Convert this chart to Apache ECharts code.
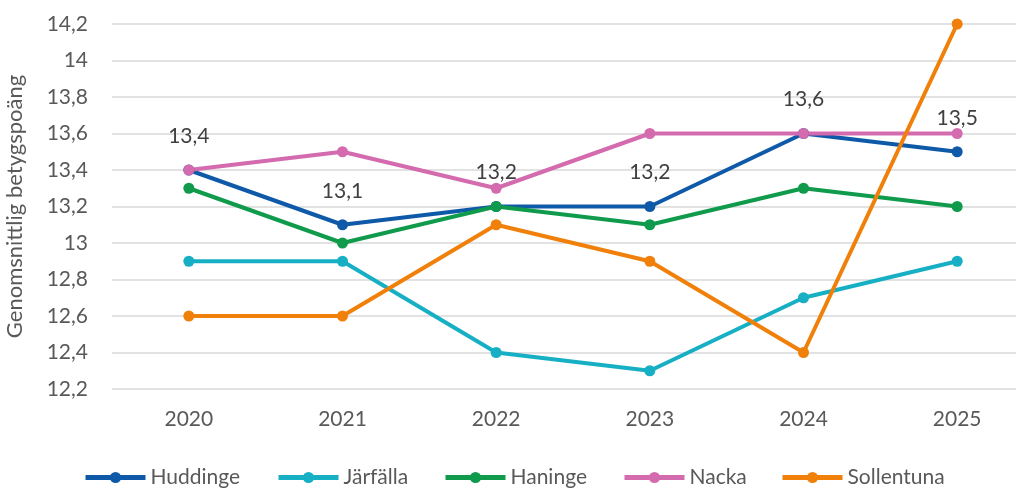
<!DOCTYPE html>
<html>
<head>
<meta charset="utf-8">
<script src="https://cdn.jsdelivr.net/npm/echarts@6/dist/echarts.min.js"></script>
<style>
  html, body { margin: 0; padding: 0; background: #fff; }
  #main { width: 1016px; height: 489px; }
</style>
</head>
<body>
<div id="main"></div>
<script>
const years = ['2020', '2021', '2022', '2023', '2024', '2025'];
const huddinge = [13.4, 13.1, 13.2, 13.2, 13.6, 13.5];
const jarfalla = [12.9, 12.9, 12.4, 12.3, 12.7, 12.9];
const haninge = [13.3, 13.0, 13.2, 13.1, 13.3, 13.2];
const nacka = [13.4, 13.5, 13.3, 13.6, 13.6, 13.6];
const sollentuna = [12.6, 12.6, 13.1, 12.9, 12.4, 14.2];

const names = ['Huddinge', 'Järfälla', 'Haninge', 'Nacka', 'Sollentuna'];
const legendLeft = [83, 276, 443, 622, 780];

const fontFam = 'Lato, "Open Sans", sans-serif';
const fmt = v => String(Math.round(v * 10) / 10).replace('.', ',');

function line(name, data, color, labels) {
  return {
    name: name,
    type: 'line',
    data: data,
    symbol: 'circle',
    symbolSize: 11,
    lineStyle: { width: 4, color: color },
    itemStyle: { color: color },
    label: labels ? {
      show: true,
      position: 'top',
      distance: 18,
      color: '#404040',
      fontSize: 21,
      fontFamily: fontFam,
      formatter: p => fmt(p.value)
    } : { show: false },
    emphasis: { disabled: true },
    animation: false
  };
}

const chart = echarts.init(document.getElementById('main'), null, { renderer: 'canvas' });

chart.setOption({
  grid: { left: 112, width: 922, top: 24, height: 365, outerBoundsMode: 'none', containLabel: false },
  legend: names.map((n, i) => ({
    data: [n],
    left: legendLeft[i],
    top: 467,
    padding: 0,
    itemWidth: 60,
    itemHeight: 14,
    itemGap: 4,
    lineStyle: { width: 5 },
    textStyle: { fontSize: 21, color: '#595959', fontFamily: fontFam }
  })),
  xAxis: {
    type: 'category',
    data: years,
    boundaryGap: true,
    axisLine: { show: false },
    axisTick: { show: false },
    axisLabel: { color: '#595959', fontSize: 21, fontFamily: fontFam, margin: 20 }
  },
  yAxis: {
    type: 'value',
    min: 12.2,
    max: 14.2,
    interval: 0.2,
    name: 'Genomsnittlig betygspoäng',
    nameLocation: 'middle',
    nameRotate: 90,
    nameGap: 86,
    nameTextStyle: { color: '#595959', fontSize: 22, fontFamily: fontFam },
    axisLine: { show: false },
    axisTick: { show: false },
    splitLine: { lineStyle: { color: '#d9d9d9', width: 1.5 } },
    axisLabel: { color: '#595959', fontSize: 21, fontFamily: fontFam, margin: 24, formatter: fmt }
  },
  series: [
    line('Huddinge', huddinge, '#0f5aa8', true),
    line('Järfälla', jarfalla, '#17afc4', false),
    line('Haninge', haninge, '#0f9a4c', false),
    line('Nacka', nacka, '#d36bae', false),
    line('Sollentuna', sollentuna, '#f0800a', false)
  ]
});
</script>
</body>
</html>
